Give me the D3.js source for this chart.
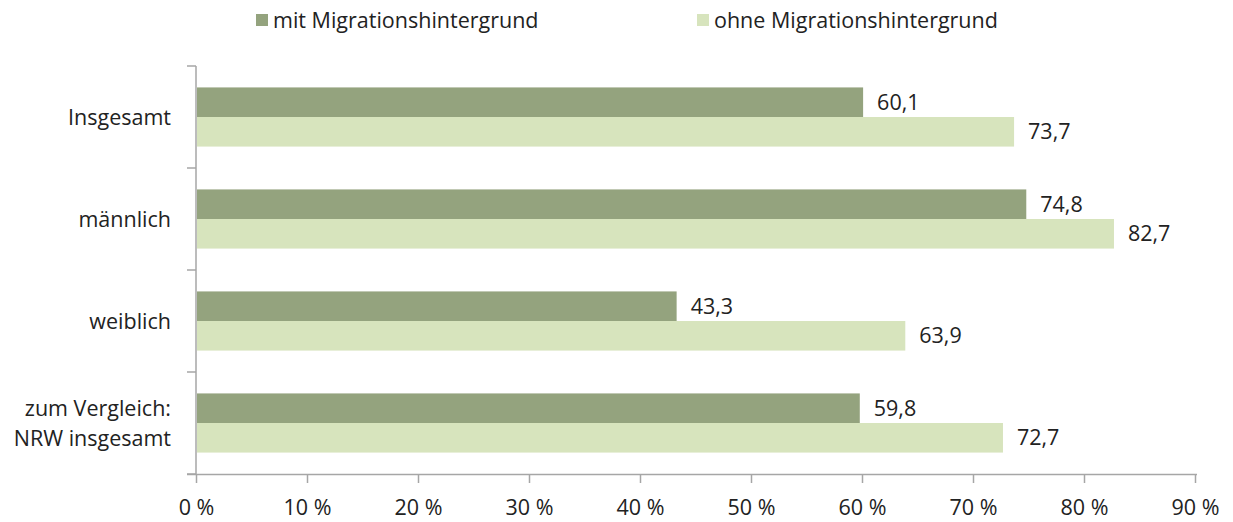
<!DOCTYPE html>
<html>
<head>
<meta charset="utf-8">
<script src="https://cdn.jsdelivr.net/npm/d3@7"></script>
<style>
  body { margin: 0; background: #fff; }
  svg text { font-family: "Open Sans", Lato, sans-serif; fill: #222; font-variant-ligatures: none; }
</style>
</head>
<body>
<div id="chart"></div>
<script>
var categories = ["Insgesamt", "männlich", "weiblich", "zum Vergleich:\nNRW insgesamt"];
var seriesNames = ["mit Migrationshintergrund", "ohne Migrationshintergrund"];
var mitValues = [60.1, 74.8, 43.3, 59.8];
var ohneValues = [73.7, 82.7, 63.9, 72.7];
var xTicks = [0, 10, 20, 30, 40, 50, 60, 70, 80, 90];
var colors = ["#94a37e", "#d7e4bd"];

var width = 1233, height = 522;
var plotLeft = 196, plotRight = 1195, plotTop = 66, plotBottom = 474;
var fontSize = "21.5px";

var svg = d3.select("#chart").append("svg")
    .attr("width", width)
    .attr("height", height);

var x = d3.scaleLinear().domain([0, 90]).range([plotLeft, plotRight]);
var y = d3.scaleBand().domain(categories).range([plotTop, plotBottom])
    .paddingInner(0.42).paddingOuter(0.21);
var sub = d3.scaleBand().domain([0, 1]).range([0, y.bandwidth()]);

// axes
var xAxis = svg.append("g")
    .attr("transform", "translate(0," + plotBottom + ")")
    .call(d3.axisBottom(x).tickValues(xTicks).tickSize(9).tickPadding(17)
        .tickFormat(function(d){ return d + " %"; }));
xAxis.select(".domain").attr("stroke", "#a6a6a6").attr("stroke-width", 1.5)
    .attr("d", "M" + (plotLeft - 9) + ",0.5H" + (plotRight + 2));
xAxis.selectAll(".tick line").attr("stroke", "#a6a6a6").attr("stroke-width", 1.5);
xAxis.selectAll(".tick text").style("font-size", fontSize).attr("fill", "#222")
    .style("font-family", "'Open Sans', sans-serif");

// y axis line + ticks at band boundaries
svg.append("line")
    .attr("x1", plotLeft).attr("x2", plotLeft)
    .attr("y1", plotTop).attr("y2", plotBottom)
    .attr("stroke", "#a6a6a6").attr("stroke-width", 1.5);
var step = (plotBottom - plotTop) / categories.length;
d3.range(categories.length + 1).forEach(function(i){
    svg.append("line")
        .attr("x1", plotLeft - 9).attr("x2", plotLeft)
        .attr("y1", plotTop + i * step).attr("y2", plotTop + i * step)
        .attr("stroke", "#a6a6a6").attr("stroke-width", 1.5);
});

// bars
var data = categories.map(function(c, i){
    return { cat: c, vals: [mitValues[i], ohneValues[i]] };
});

var groups = svg.selectAll("g.cat")
    .data(data)
    .enter().append("g")
    .attr("class", "cat")
    .attr("transform", function(d){ return "translate(0," + y(d.cat) + ")"; });

groups.selectAll("rect")
    .data(function(d){ return d.vals; })
    .enter().append("rect")
    .attr("x", x(0) + 1)
    .attr("y", function(d, i){ return sub(i); })
    .attr("width", function(d){ return x(d) - x(0) - 1; })
    .attr("height", sub.bandwidth())
    .attr("fill", function(d, i){ return colors[i]; });

groups.selectAll("text.val")
    .data(function(d){ return d.vals; })
    .enter().append("text")
    .attr("class", "val")
    .attr("x", function(d){ return x(d) + 14; })
    .attr("y", function(d, i){ return sub(i) + sub.bandwidth() / 2; })
    .attr("dy", "0.35em")
    .style("font-size", fontSize)
    .text(function(d){ return d.toFixed(1).replace(".", ","); });

// category labels
groups.append("text")
    .attr("text-anchor", "end")
    .attr("x", 171)
    .style("font-size", fontSize)
    .each(function(d){
        var lines = d.cat.split("\n");
        var t = d3.select(this);
        var mid = y.bandwidth() / 2;
        lines.forEach(function(l, i){
            t.append("tspan")
                .attr("x", 171)
                .attr("y", mid + (i - (lines.length - 1) / 2) * 30)
                .attr("dy", "0.35em")
                .text(l);
        });
    });

// legend
var legendX = [256, 697];
seriesNames.forEach(function(name, i){
    svg.append("rect")
        .attr("x", legendX[i]).attr("y", 14)
        .attr("width", 12).attr("height", 12)
        .attr("fill", colors[i]);
    svg.append("text")
        .attr("x", legendX[i] + 17).attr("y", 20)
        .attr("dy", "0.35em")
        .style("font-size", fontSize)
        .text(name);
});
</script>
</body>
</html>
